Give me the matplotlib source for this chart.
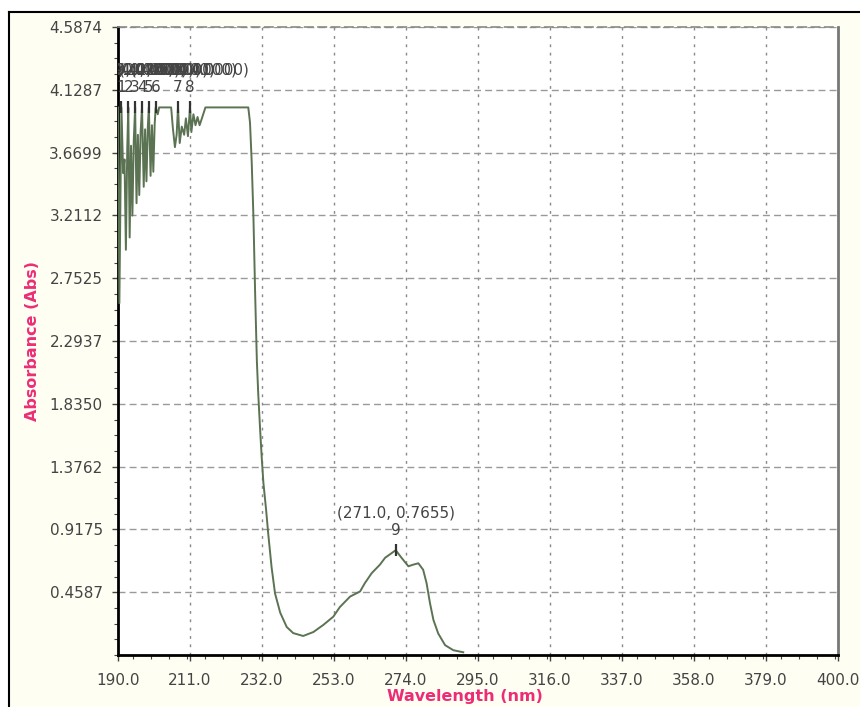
import matplotlib.pyplot as plt
from matplotlib.patches import Rectangle
from matplotlib.lines import Line2D
from matplotlib.ticker import MultipleLocator

# spectrum (nm, Abs)
wavelength = [190.0, 190.4, 190.8, 191.0, 191.5, 191.9, 192.3, 192.7, 193.0, 193.4,
              193.8, 194.2, 194.6, 195.0, 195.4, 195.8, 196.2, 196.6, 197.0, 197.5,
              197.9, 198.3, 198.7, 199.0, 199.5, 199.9, 200.3, 200.7, 201.0, 201.6,
              202.0, 205.5, 206.0, 206.6, 207.1, 207.5, 208.0, 208.6, 209.3, 209.8,
              210.4, 211.0, 211.4, 212.0, 212.6, 213.2, 213.8, 214.6, 215.5, 228.0,
              228.5, 229.0, 229.5, 230.0, 230.5, 230.9, 231.4, 231.9, 232.4, 233.2,
              233.8, 234.8, 235.8, 237.3, 239.2, 241.1, 244.0, 247.0, 249.9, 252.8,
              254.7, 257.7, 260.6, 262.0, 264.0, 266.4, 267.9, 271.0, 272.7, 274.7,
              276.1, 277.6, 279.0, 280.0, 281.0, 282.0, 283.4, 285.4, 287.8, 290.7]
absorbance = [4.00, 2.57, 3.55, 4.00, 3.52, 3.62, 2.96, 3.70, 4.00, 3.05,
              3.72, 3.21, 3.76, 4.00, 3.30, 3.80, 3.36, 3.82, 4.00, 3.42,
              3.84, 3.46, 3.86, 4.00, 3.50, 3.87, 3.53, 3.88, 4.00, 3.95,
              4.00, 4.00, 3.85, 3.71, 3.80, 4.00, 3.74, 3.86, 3.80, 3.92,
              3.79, 4.00, 3.82, 3.95, 3.87, 3.93, 3.87, 3.93, 4.00, 4.00,
              3.89, 3.60, 3.20, 2.64, 2.15, 1.91, 1.67, 1.45, 1.26, 1.06,
              0.89, 0.64, 0.45, 0.31, 0.205, 0.16, 0.139, 0.168, 0.22, 0.28,
              0.35, 0.427, 0.464, 0.525, 0.598, 0.66, 0.71, 0.7655, 0.71, 0.648,
              0.66, 0.67, 0.623, 0.525, 0.378, 0.256, 0.157, 0.072, 0.035, 0.02]

peak_nm = [191.0, 193.0, 195.0, 197.0, 199.0, 201.0, 207.5, 211.0, 271.0]
peak_abs = [4.0, 4.0, 4.0, 4.0, 4.0, 4.0, 4.0, 4.0, 0.7655]
peak_num = ["1", "2", "3", "4", "5", "6", "7", "8", "9"]

x_ticks = [190, 211, 232, 253, 274, 295, 316, 337, 358, 379, 400]
x_labels = ["190.0", "211.0", "232.0", "253.0", "274.0", "295.0", "316.0", "337.0", "358.0", "379.0", "400.0"]
y_step = 0.458743
y_labels = ["0.4587", "0.9175", "1.3762", "1.8350", "2.2937", "2.7525", "3.2112", "3.6699", "4.1287", "4.5874"]

pink = '#ec2d76'
line_col = '#5b7352'
tick_col = '#444444'

fig = plt.figure(figsize=(8.6, 7.07), dpi=100, facecolor='white')
# cream panel with black top/left border
fig.patches.append(Rectangle((9 / 860, 0), 1, 1 - 12 / 707, transform=fig.transFigure,
                             facecolor='#fffef3', edgecolor='none', zorder=-5))
fig.lines.append(Line2D([9 / 860, 1], [1 - 12 / 707, 1 - 12 / 707], transform=fig.transFigure, color='black', lw=1.5))
fig.lines.append(Line2D([9 / 860, 9 / 860], [0, 1 - 12 / 707], transform=fig.transFigure, color='black', lw=1.5))

ax = fig.add_axes([118 / 860, 1 - 655 / 707, 720 / 860, 628 / 707])
ax.set_facecolor('white')

ax.plot(wavelength, absorbance, color=line_col, lw=1.4, zorder=3)

# peak markers and labels
ax.plot(peak_nm, peak_abs, linestyle='none', marker='|', markersize=8, mew=1.6, color='#333333', zorder=4)
for nm, a, n in zip(peak_nm, peak_abs, peak_num):
    ax.annotate(n, (nm, a), xytext=(0, 14), textcoords='offset points', ha='center', va='center',
                fontsize=11, color=tick_col, annotation_clip=False, clip_on=True)
    ax.annotate("(%.1f, %.4f)" % (nm, a), (nm, a), xytext=(0, 27), textcoords='offset points',
                ha='center', va='center', fontsize=11, color=tick_col, clip_on=True)

ax.set_xlim(190, 400)
ax.set_ylim(0, y_step * 10)
ax.set_xticks(x_ticks)
ax.set_xticklabels(x_labels)
ax.set_yticks([y_step * (i + 1) for i in range(10)])
ax.set_yticklabels(y_labels)
ax.xaxis.set_minor_locator(MultipleLocator(21 / 4))
ax.yaxis.set_minor_locator(MultipleLocator(y_step / 4))
ax.tick_params(which='both', direction='out', colors=tick_col, labelsize=11)
ax.tick_params(which='major', length=4, width=1, pad=7)
ax.tick_params(which='minor', length=3, width=0.8)
ax.tick_params(axis='x', pad=9)

ax.grid(axis='y', which='major', color='#999999', lw=1, linestyle=(0, (5, 3)))
ax.grid(axis='x', which='major', color='#888888', lw=1, linestyle=(0, (2, 4)))
ax.set_axisbelow(True)

for s in ['left', 'bottom']:
    ax.spines[s].set_linewidth(2)
    ax.spines[s].set_color('black')
ax.spines['right'].set_linewidth(2)
ax.spines['right'].set_color('#777777')
ax.spines['top'].set_linewidth(1.2)
ax.spines['top'].set_color('#888888')
ax.spines['top'].set_linestyle((0, (5, 3)))

ax.text(0.482, -0.066, "Wavelength (nm)", transform=ax.transAxes, ha='center', va='center',
        fontsize=11.5, fontweight='bold', color=pink)
ax.text(-0.119, 0.50, "Absorbance (Abs)", transform=ax.transAxes, ha='center', va='center',
        rotation=90, fontsize=11.5, fontweight='bold', color=pink)

fig.savefig('out.png', dpi=100, facecolor=fig.get_facecolor())
